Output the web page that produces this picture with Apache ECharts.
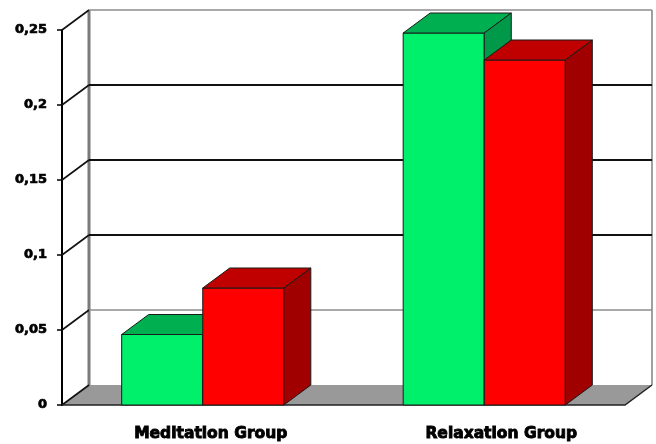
<!DOCTYPE html>
<html>
<head>
<meta charset="utf-8">
<script src="https://cdn.jsdelivr.net/npm/echarts@6/dist/echarts.min.js"></script>
<style>
  html, body { margin: 0; padding: 0; background: #ffffff; }
  #chart { width: 656px; height: 444px; }
</style>
</head>
<body>
<div id="chart"></div>
<script>
// Group names and the two measured values per group
const categories = ['Meditation Group', 'Relaxation Group'];
const greenValues = [0.047, 0.248];
const redValues = [0.078, 0.230];
const yTicks = [0, 0.05, 0.1, 0.15, 0.2, 0.25];

// Oblique depth of the pseudo-3D box (pixels)
const DX = 27;
const DY = -20;
const BAR_RATIO = 0.288;

const greenFaces = { front: '#00F06C', top: '#00B050', side: '#00994A' };
const redFaces = { front: '#FF0000', top: '#C00000', side: '#A00000' };

function wallRenderer(params, api) {
  const cs = params.coordSys;
  const L = cs.x, R = cs.x + cs.width, B = cs.y + cs.height;
  const topY = api.coord([0, yTicks[yTicks.length - 1]])[1];
  const children = [];
  // floor plane
  children.push({
    type: 'polygon',
    shape: { points: [[L, B], [L + DX, B + DY], [R + DX, B + DY], [R, B]] },
    style: { fill: '#999999', stroke: null }
  });
  // back wall verticals
  children.push({
    type: 'line',
    shape: { x1: L + DX, y1: topY + DY, x2: L + DX, y2: B + DY },
    style: { stroke: '#7a7a7a', lineWidth: 3 }
  });
  children.push({
    type: 'line',
    shape: { x1: R + DX, y1: topY + DY, x2: R + DX, y2: B + DY },
    style: { stroke: '#808080', lineWidth: 1.5 }
  });
  yTicks.forEach(function (v, i) {
    const y = api.coord([0, v])[1];
    // side wall diagonal
    children.push({
      type: 'line',
      shape: { x1: L, y1: y, x2: L + DX, y2: y + DY },
      style: { stroke: '#111111', lineWidth: 1.6 }
    });
    if (v > 0) {
      const light = (i === 1 || i === yTicks.length - 1);
      children.push({
        type: 'line',
        shape: { x1: L + DX, y1: y + DY, x2: R + DX, y2: y + DY },
        style: { stroke: light ? '#8c8c8c' : '#111111', lineWidth: light ? 1.3 : 1.8 }
      });
    }
  });
  // floor front and right edges
  children.push({
    type: 'polyline',
    shape: { points: [[L, B], [R, B], [R + DX, B + DY]] },
    style: { stroke: '#222222', lineWidth: 1.5, fill: null }
  });
  return { type: 'group', children: children };
}

function barRenderer(side, faces) {
  return function (params, api) {
    const idx = api.value(0);
    const val = api.value(1);
    const top = api.coord([idx, val]);
    const base = api.coord([idx, 0]);
    const band = api.size([1, 0])[0];
    const w = band * BAR_RATIO;
    const x0 = side < 0 ? top[0] - w : top[0];
    const x1 = x0 + w;
    const yT = top[1], yB = base[1];
    const edge = { stroke: '#1a1a1a', lineWidth: 1 };
    return {
      type: 'group',
      children: [
        {
          type: 'polygon',
          shape: { points: [[x0, yB], [x1, yB], [x1, yT], [x0, yT]] },
          style: Object.assign({ fill: faces.front }, edge)
        },
        {
          type: 'polygon',
          shape: { points: [[x0, yT], [x1, yT], [x1 + DX, yT + DY], [x0 + DX, yT + DY]] },
          style: Object.assign({ fill: faces.top }, edge)
        },
        {
          type: 'polygon',
          shape: { points: [[x1, yB], [x1 + DX, yB + DY], [x1 + DX, yT + DY], [x1, yT]] },
          style: Object.assign({ fill: faces.side }, edge)
        }
      ]
    };
  };
}

const labelFont = {
  fontFamily: 'DejaVu Sans',
  fontWeight: 'bold',
  fontSize: 15.5,
  color: '#000000',
  textBorderColor: '#000000',
  textBorderWidth: 0.9
};

const chart = echarts.init(document.getElementById('chart'), null, { renderer: 'canvas' });
chart.setOption({
  animation: false,
  backgroundColor: '#ffffff',
  grid: { left: 62, right: 31, top: 30, bottom: 39 },
  xAxis: {
    type: 'category',
    data: categories,
    axisLine: { show: false },
    axisTick: { show: false },
    axisLabel: Object.assign({
      margin: 21,
      formatter: function (v, i) { return '{c' + i + '|' + v + '}'; },
      rich: {
        c0: Object.assign({ padding: [0, 0, 0, 16] }, labelFont),
        c1: Object.assign({ padding: [0, 0, 0, 34] }, labelFont)
      }
    }, labelFont),
    splitLine: { show: false }
  },
  yAxis: {
    type: 'value',
    min: 0,
    max: 0.25,
    interval: 0.05,
    axisLine: { show: true, lineStyle: { color: '#000000', width: 2 } },
    axisTick: { show: true, length: 5, lineStyle: { color: '#000000', width: 1.5 } },
    axisLabel: {
      margin: 15,
      fontFamily: 'DejaVu Sans',
      fontWeight: 'bold',
      fontSize: 13,
      color: '#000000',
      textBorderColor: '#000000',
      textBorderWidth: 0.7,
      formatter: function (v) { return String(+v.toFixed(2)).replace('.', ','); }
    },
    splitLine: { show: false }
  },
  series: [
    {
      type: 'custom',
      z: 1,
      silent: true,
      renderItem: wallRenderer,
      data: [[0, 0]]
    },
    {
      type: 'custom',
      name: 'green',
      z: 3,
      renderItem: barRenderer(-1, greenFaces),
      data: categories.map(function (c, i) { return [i, greenValues[i]]; })
    },
    {
      type: 'custom',
      name: 'red',
      z: 4,
      renderItem: barRenderer(1, redFaces),
      data: categories.map(function (c, i) { return [i, redValues[i]]; })
    }
  ]
});
</script>
</body>
</html>
